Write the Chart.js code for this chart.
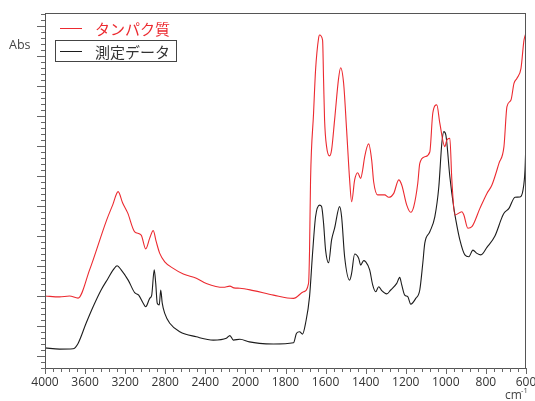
<!DOCTYPE html>
<html>
<head>
<meta charset="utf-8">
<script src="https://cdn.jsdelivr.net/npm/chart.js"></script>
<style>
html, body { margin: 0; padding: 0; background: #fff; }
#wrap { width: 535px; height: 401px; }
</style>
</head>
<body>
<div id="wrap"><canvas id="c" width="535" height="401"></canvas></div>
<script>
// 横軸の目盛ラベル（4000-2000は400刻み、2000以下は200刻みで等間隔に並ぶ）
const tickLabels = ['4000', '3600', '3200', '2800', '2400', '2000', '1800', '1600', '1400', '1200', '1000', '800', '600'];
const seriesNames = ['タンパク質', '測定データ'];

// タンパク質（赤）
const proteinWn = [4000, 3855, 3755, 3670, 3555, 3385, 3325, 3270, 3225, 3175, 3105, 3040, 2995, 2955, 2920, 2890, 2855, 2805, 2720, 2620, 2490, 2390, 2220, 2155, 2115, 2055, 1960, 1860, 1760, 1710, 1685, 1680, 1675, 1660, 1650, 1635, 1630, 1615, 1610, 1605, 1595, 1580, 1570, 1555, 1535, 1525, 1510, 1495, 1480, 1470, 1455, 1440, 1425, 1415, 1405, 1385, 1370, 1360, 1340, 1305, 1285, 1260, 1235, 1220, 1195, 1175, 1160, 1140, 1130, 1105, 1080, 1065, 1045, 1030, 1005, 995, 980, 970, 955, 920, 910, 890, 870, 830, 795, 770, 735, 710, 695, 675, 660, 645, 625, 610, 600];
const proteinAbs = [0.200, 0.197, 0.200, 0.193, 0.287, 0.453, 0.503, 0.548, 0.510, 0.477, 0.414, 0.403, 0.357, 0.393, 0.418, 0.381, 0.342, 0.314, 0.292, 0.273, 0.259, 0.242, 0.229, 0.233, 0.227, 0.226, 0.218, 0.203, 0.192, 0.214, 0.242, 0.353, 0.587, 0.809, 0.953, 1.059, 1.070, 1.053, 0.920, 0.787, 0.698, 0.667, 0.687, 0.787, 0.926, 0.961, 0.909, 0.753, 0.587, 0.514, 0.587, 0.611, 0.592, 0.620, 0.664, 0.707, 0.653, 0.580, 0.537, 0.537, 0.529, 0.542, 0.587, 0.570, 0.503, 0.479, 0.498, 0.576, 0.642, 0.664, 0.680, 0.810, 0.837, 0.776, 0.698, 0.720, 0.726, 0.587, 0.470, 0.481, 0.470, 0.426, 0.431, 0.492, 0.542, 0.570, 0.642, 0.698, 0.831, 0.853, 0.909, 0.926, 0.959, 1.053, 1.077];

// 測定データ（黒）
const sampleWn = [4000, 3855, 3720, 3670, 3590, 3520, 3440, 3370, 3320, 3280, 3240, 3170, 3105, 3065, 3020, 2995, 2955, 2935, 2910, 2895, 2880, 2860, 2845, 2830, 2805, 2755, 2655, 2490, 2320, 2190, 2155, 2120, 2055, 1980, 1930, 1860, 1760, 1745, 1730, 1715, 1700, 1680, 1665, 1650, 1630, 1620, 1610, 1600, 1585, 1570, 1555, 1530, 1520, 1505, 1480, 1470, 1455, 1435, 1425, 1410, 1400, 1380, 1365, 1350, 1335, 1320, 1295, 1275, 1245, 1230, 1220, 1205, 1190, 1175, 1150, 1130, 1115, 1105, 1080, 1055, 1035, 1020, 1010, 1000, 980, 960, 950, 930, 905, 885, 865, 845, 825, 795, 755, 720, 710, 685, 655, 630, 615, 605, 600];
const sampleAbs = [0.027, 0.023, 0.024, 0.042, 0.109, 0.164, 0.220, 0.259, 0.287, 0.301, 0.287, 0.253, 0.211, 0.203, 0.176, 0.164, 0.192, 0.203, 0.287, 0.242, 0.176, 0.170, 0.220, 0.176, 0.142, 0.109, 0.081, 0.064, 0.053, 0.059, 0.068, 0.053, 0.056, 0.047, 0.042, 0.040, 0.044, 0.076, 0.081, 0.073, 0.109, 0.198, 0.342, 0.464, 0.503, 0.498, 0.442, 0.353, 0.311, 0.387, 0.426, 0.498, 0.464, 0.331, 0.253, 0.276, 0.340, 0.326, 0.303, 0.318, 0.314, 0.287, 0.237, 0.214, 0.231, 0.218, 0.207, 0.220, 0.242, 0.262, 0.237, 0.203, 0.198, 0.173, 0.192, 0.220, 0.309, 0.376, 0.414, 0.464, 0.564, 0.709, 0.748, 0.737, 0.598, 0.493, 0.453, 0.387, 0.337, 0.331, 0.353, 0.342, 0.337, 0.362, 0.400, 0.462, 0.476, 0.492, 0.529, 0.530, 0.553, 0.620, 0.720];

const RED = '#ec2a30';
const BLACK = '#1c1c1c';

// 波数 -> 横軸の位置（2000 cm-1 で目盛間隔が切り替わる）
function toAxis(wn) {
    return wn >= 2000 ? (4000 - wn) / 400 : 5 + (2000 - wn) / 200;
}

function points(wn, abs) {
    return wn.map((w, i) => ({ x: toAxis(w), y: abs[i] }));
}

// 枠・目盛・凡例などの描画
const frame = {
    id: 'frame',
    afterDraw(chart) {
        const { ctx, chartArea: a, scales: { x, y } } = chart;
        ctx.save();
        ctx.strokeStyle = '#555';
        ctx.lineWidth = 1;
        ctx.strokeRect(a.left + 0.5, a.top + 0.5, a.right - a.left - 1, a.bottom - a.top);

        ctx.strokeStyle = '#666';
        ctx.beginPath();
        for (let i = 0; i <= 60; i++) {
            const px = Math.round(x.getPixelForValue(i / 5)) + 0.5;
            const len = i % 5 === 0 ? 6 : 4;
            ctx.moveTo(px, a.bottom);
            ctx.lineTo(px, a.bottom + len);
        }
        for (let k = -2; k * 0.02 <= y.max; k++) {
            const py = Math.round(y.getPixelForValue(k * 0.02)) + 0.5;
            const len = k % 5 === 0 ? 8 : 4;
            ctx.moveTo(a.left, py);
            ctx.lineTo(a.left - len, py);
        }
        ctx.stroke();

        ctx.textBaseline = 'middle';
        ctx.fillStyle = '#444';
        ctx.font = '12.5px "Open Sans"';
        ctx.fillText('Abs', 9, 45);
        ctx.font = '12px "Open Sans"';
        ctx.fillText('cm', 505, 396);
        ctx.font = '7.5px "Open Sans"';
        ctx.fillText('-1', 521, 391);

        // 凡例
        ctx.lineWidth = 1;
        ctx.strokeStyle = RED;
        ctx.beginPath();
        ctx.moveTo(60, 28.5);
        ctx.lineTo(82, 28.5);
        ctx.stroke();
        ctx.font = '15px "Noto Sans CJK JP"';
        ctx.fillStyle = RED;
        ctx.fillText(seriesNames[0], 95, 29);

        ctx.strokeStyle = '#444';
        ctx.strokeRect(55.5, 40.5, 121, 21);
        ctx.strokeStyle = BLACK;
        ctx.beginPath();
        ctx.moveTo(60, 51.5);
        ctx.lineTo(82, 51.5);
        ctx.stroke();
        ctx.fillStyle = '#333';
        ctx.fillText(seriesNames[1], 95, 52);
        ctx.restore();
    }
};

new Chart(document.getElementById('c'), {
    type: 'line',
    data: {
        datasets: [{
            label: seriesNames[0],
            data: points(proteinWn, proteinAbs),
            borderColor: RED,
            borderWidth: 1.1,
            pointRadius: 0,
            cubicInterpolationMode: 'monotone'
        }, {
            label: seriesNames[1],
            data: points(sampleWn, sampleAbs),
            borderColor: BLACK,
            borderWidth: 1.1,
            pointRadius: 0,
            cubicInterpolationMode: 'monotone'
        }]
    },
    options: {
        responsive: false,
        animation: false,
        layout: { padding: { top: 13, right: 9, left: 0, bottom: 0 } },
        plugins: { legend: { display: false }, tooltip: { enabled: false } },
        scales: {
            x: {
                type: 'linear',
                min: 0,
                max: 12,
                grid: { display: false, drawTicks: false },
                border: { display: false },
                ticks: {
                    stepSize: 1,
                    autoSkip: false,
                    maxRotation: 0,
                    padding: 7,
                    color: '#333',
                    font: { family: 'Open Sans', size: 12 },
                    callback: v => tickLabels[v]
                },
                afterFit(s) { s.height = 33; s.paddingLeft = 0; s.paddingRight = 0; }
            },
            y: {
                min: -0.04,
                max: 1.1433,
                grid: { display: false, drawTicks: false },
                border: { display: false },
                ticks: { display: false },
                afterFit(s) { s.width = 45; }
            }
        }
    },
    plugins: [frame]
});
</script>
</body>
</html>
